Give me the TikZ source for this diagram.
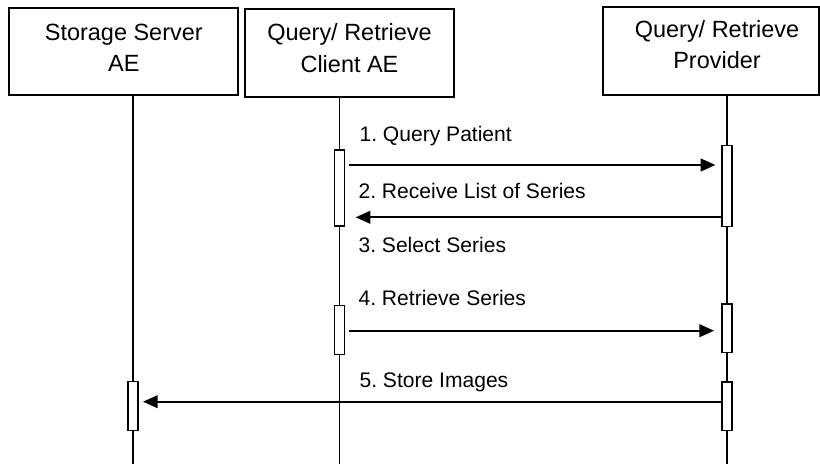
\documentclass[tikz,border=0pt]{standalone}
\usepackage{fontspec}
\setmainfont{Liberation Sans}
\usetikzlibrary{arrows.meta}
\begin{document}
\frenchspacing
\begin{tikzpicture}[x=0.75pt,y=-0.75pt,
  actor/.style={draw,line width=1.5pt,inner sep=0pt},
  title/.style={align=center,inner sep=0pt,font=\fontsize{17.6pt}{23.3pt}\selectfont},
  life/.style={line width=1.2pt},
  act/.style={draw,fill=white,line width=0.9pt,inner sep=0pt,minimum width=7.5pt},
  msglabel/.style={anchor=base west,inner sep=0pt,font=\fontsize{15.8pt}{18pt}\selectfont\frenchspacing},
  msg/.style={line width=1.4pt,-{Triangle[length=11pt,width=9.5pt]}}]
\useasboundingbox (0,0) rectangle (820,464);
% actor boxes
\node[actor,minimum width=171.75pt,minimum height=65pt] (s) at (123.8,51.7) {};
\node[actor,minimum width=157pt,minimum height=65.8pt] (c) at (349.7,52.8) {};
\node[actor,minimum width=161.4pt,minimum height=66.2pt] (p) at (710.9,50.8) {};
\node[title,anchor=base] (st) at (123.8,71.7) {Storage Server\\AE};
\node[title,anchor=base] (ct) at (349.5,72) {Query/ Retrieve\\Client AE};
\node[title,anchor=base] (pt) at (717,68.3) {Query/ Retrieve\\Provider};
% lifeline positions
\coordinate (sx) at (132.7,464);
\coordinate (cx) at (339.4,464);
\coordinate (px) at (726.7,464);
\draw[life] (s.south -| sx) -- (sx);
\draw[life] (c.south -| cx) -- (cx);
\draw[life] (p.south -| px) -- (px);
% activation boxes
\node[act,minimum height=57pt] (ca1) at (339.4,188) {};
\node[act,minimum height=60.75pt] (pa1) at (727,186.2) {};
\node[act,minimum height=36.5pt] (ca2) at (339.4,330) {};
\node[act,minimum height=36.5pt] (pa2) at (727,328.3) {};
\node[act,minimum height=36.5pt] (pa3) at (727,406.3) {};
\node[act,minimum height=36.75pt] (sa) at (133,406.2) {};
% message rows
\coordinate (y1) at (0,165);
\coordinate (y2) at (0,217.3);
\coordinate (y4) at (0,330.7);
\coordinate (y5) at (0,401.7);
\draw[msg,shorten <=3pt,shorten >=4.5pt] (ca1.east |- y1) -- (pa1.west |- y1);
\draw[msg,shorten >=8pt] (pa1.west |- y2) -- (ca1.east |- y2);
\draw[msg,shorten <=3pt,shorten >=5.5pt] (ca2.east |- y4) -- (pa2.west |- y4);
\draw[msg,shorten >=3.3pt] (pa3.west |- y5) -- (sa.east |- y5);
% labels
\node[msglabel] (l1) at (359.3,141.7) {1. Query Patient};
\node[msglabel] (l2) at (358.3,198.3) {2. Receive List of Series};
\node[msglabel] (l3) at (358.3,252.3) {3. Select Series};
\node[msglabel] (l4) at (358.3,305.3) {4. Retrieve Series};
\node[msglabel] (l5) at (359.3,387.3) {5. Store Images};
\end{tikzpicture}
\end{document}
